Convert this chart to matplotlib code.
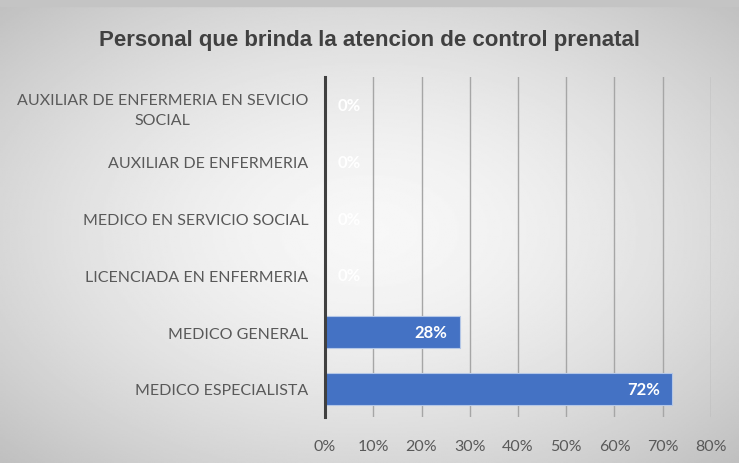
import numpy as np
import matplotlib.pyplot as plt

categorias = ['MEDICO ESPECIALISTA', 'MEDICO GENERAL', 'LICENCIADA EN ENFERMERIA',
              'MEDICO EN SERVICIO SOCIAL', 'AUXILIAR DE ENFERMERIA',
              'AUXILIAR DE ENFERMERIA EN SEVICIO\nSOCIAL']
valores = [0.72, 0.28, 0.0, 0.0, 0.0, 0.0]
ticks = [0, 0.1, 0.2, 0.3, 0.4, 0.5, 0.6, 0.7, 0.8]
titulo = 'Personal que brinda la atencion de control prenatal'

fig = plt.figure(figsize=(7.39, 4.64), dpi=100)

# fondo con degradado radial
bg = fig.add_axes([0, 0, 1, 1], zorder=-10)
yy, xx = np.mgrid[-1:1:300j, -1:1:400j]
r = np.sqrt(xx ** 2 + yy ** 2) / np.sqrt(2)
bg.imshow(0.97 - 0.22 * r ** 1.6, cmap='gray', vmin=0, vmax=1,
          extent=[0, 1, 0, 1], aspect='auto')
bg.axhspan(0.985, 1, color='#c4c4c4')
bg.set_xlim(0, 1)
bg.set_ylim(0, 1)
bg.axis('off')

ax = fig.add_axes([0.4398, 0.099, 0.5223, 0.733])
ax.patch.set_alpha(0)
y = np.arange(len(categorias))
barras = ax.barh(y, valores, height=0.56, color='#4472c4',
                 edgecolor='#b4c7e7', linewidth=0.8, zorder=3)

fuente = ['Lato', 'DejaVu Sans']
for v, yi in zip(valores, y):
    txt = '{:.0%}'.format(v)
    if v > 0:
        ax.annotate(txt, (v, yi), xytext=(-9, 0), textcoords='offset points',
                    ha='right', va='center', color='white', fontsize=12,
                    fontweight='bold', family=fuente, zorder=4)
    else:
        ax.annotate(txt, (v, yi), xytext=(9, 0), textcoords='offset points',
                    ha='left', va='center', color='white', fontsize=12,
                    fontweight='bold', family=fuente, zorder=4)

ax.set_xlim(0, 0.8)
ax.set_ylim(-0.5, len(categorias) - 0.5)
ax.set_xticks(ticks)
ax.set_xticklabels(['{:.0%}'.format(t) for t in ticks])
ax.set_yticks(y)
ax.set_yticklabels(categorias, ha='right', multialignment='center', linespacing=1.6)
ax.tick_params(axis='both', length=0, labelsize=11.5, labelcolor='#595959')
ax.tick_params(axis='x', pad=16)
ax.tick_params(axis='y', pad=12)
for lab in ax.get_xticklabels() + ax.get_yticklabels():
    lab.set_family(fuente)

ax.grid(axis='x', color='#a6a6a6', linewidth=1, zorder=0)
for s in ['top', 'right', 'bottom']:
    ax.spines[s].set_visible(False)
ax.spines['left'].set_color('#404040')
ax.spines['left'].set_linewidth(2.2)
ax.spines['left'].set_zorder(5)

fig.text(0.5, 0.913, titulo, ha='center', va='center', fontsize=16,
         fontweight='bold', color='#404040',
         family=['Liberation Sans Narrow', 'Liberation Sans', 'DejaVu Sans'])

plt.savefig('out.png', dpi=100)
